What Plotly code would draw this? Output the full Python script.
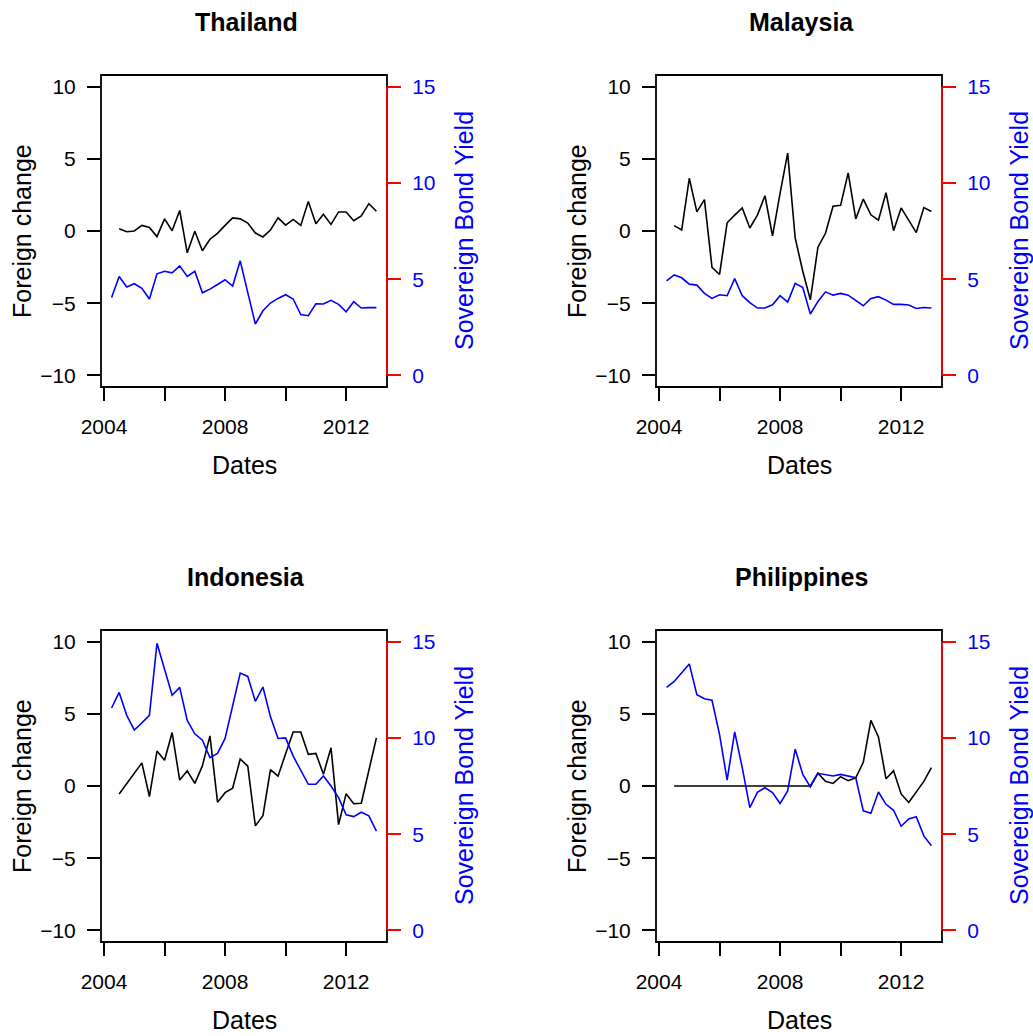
import plotly.graph_objects as go

# ---------------- data ----------------
dates = [2004.25, 2004.5, 2004.75, 2005.0, 2005.25, 2005.5, 2005.75, 2006.0,
         2006.25, 2006.5, 2006.75, 2007.0, 2007.25, 2007.5, 2007.75, 2008.0,
         2008.25, 2008.5, 2008.75, 2009.0, 2009.25, 2009.5, 2009.75, 2010.0,
         2010.25, 2010.5, 2010.75, 2011.0, 2011.25, 2011.5, 2011.75, 2012.0,
         2012.25, 2012.5, 2012.75, 2013.0]

countries = ["Thailand", "Malaysia", "Indonesia", "Philippines"]

thailand_foreign = [None, 0.16, -0.05, 0.0, 0.39, 0.25, -0.39, 0.84, 0.02, 1.42, -1.51, -0.02,
                    -1.37, -0.57, -0.16, 0.39, 0.91, 0.84, 0.55, -0.14, -0.41, 0.07, 0.91, 0.41,
                    0.80, 0.39, 2.05, 0.50, 1.16, 0.46, 1.32, 1.32, 0.71, 1.05, 1.89, 1.37]
thailand_yield = [4.05, 5.14, 4.59, 4.76, 4.52, 3.97, 5.28, 5.41, 5.33, 5.69, 5.14, 5.41,
                  4.29, 4.48, 4.72, 4.97, 4.64, 5.95, 4.30, 2.67, 3.36, 3.76, 4.00, 4.19,
                  3.97, 3.16, 3.10, 3.72, 3.71, 3.90, 3.69, 3.31, 3.83, 3.50, 3.52, 3.52]

malaysia_foreign = [None, 0.37, 0.07, 3.65, 1.32, 2.17, -2.51, -3.01, 0.57, 1.10, 1.60, 0.21,
                    1.10, 2.44, -0.34, 2.60, 5.39, -0.50, -2.79, -4.77, -1.12, -0.16, 1.71, 1.78,
                    4.02, 0.84, 2.21, 1.12, 0.75, 2.65, 0.02, 1.60, 0.73, -0.11, 1.62, 1.35]
malaysia_yield = [4.91, 5.22, 5.07, 4.74, 4.69, 4.26, 4.00, 4.19, 4.14, 5.03, 4.14, 3.78,
                  3.50, 3.50, 3.67, 4.14, 3.81, 4.78, 4.57, 3.19, 3.84, 4.34, 4.17, 4.26,
                  4.17, 3.91, 3.62, 4.00, 4.09, 3.91, 3.69, 3.69, 3.66, 3.48, 3.53, 3.50]

indonesia_foreign = [None, -0.55, 0.14, 0.89, 1.60, -0.73, 2.42, 1.78, 3.70, 0.41, 1.05, 0.18,
                     1.39, 3.47, -1.12, -0.46, -0.16, 1.87, 1.37, -2.76, -2.05, 1.14, 0.68, 2.24,
                     3.74, 3.74, 2.19, 2.26, 0.82, 2.65, -2.67, -0.53, -1.23, -1.19, 1.05, 3.33]
indonesia_yield = [11.55, 12.36, 11.17, 10.41, 10.78, 11.17, 14.91, 13.62, 12.21, 12.62, 10.90, 10.21,
                   9.88, 8.97, 9.19, 9.97, 11.64, 13.36, 13.19, 11.90, 12.64, 11.09, 9.97, 10.00,
                   9.05, 8.33, 7.59, 7.59, 8.02, 7.50, 6.90, 6.00, 5.91, 6.14, 5.95, 5.16]

philippines_foreign = [None, 0.0, 0.0, 0.0, 0.0, 0.0, 0.0, 0.0, 0.0, 0.0, 0.0, 0.0,
                       0.0, 0.0, 0.0, 0.0, 0.0, 0.0, 0.0, 0.0, 0.89, 0.32, 0.18, 0.64,
                       0.37, 0.57, 1.64, 4.54, 3.40, 0.50, 1.05, -0.55, -1.14, -0.39, 0.32, 1.28]
philippines_yield = [12.62, 12.93, 13.38, 13.84, 12.24, 12.03, 11.95, 10.17, 7.81, 10.31, 8.45, 6.38,
                     7.17, 7.41, 7.16, 6.59, 7.24, 9.41, 8.10, 7.45, 8.16, 8.10, 8.02, 8.10,
                     8.02, 7.93, 6.21, 6.09, 7.19, 6.55, 6.24, 5.41, 5.79, 5.90, 4.91, 4.40]

foreign_series = [thailand_foreign, malaysia_foreign, indonesia_foreign, philippines_foreign]
yield_series = [thailand_yield, malaysia_yield, indonesia_yield, philippines_yield]

x_tickvals = [2004, 2006, 2008, 2010, 2012]
x_ticktext = ["2004", "", "2008", "", "2012"]
left_tickvals = [-10, -5, 0, 5, 10]
left_ticktext = ["\u221210", "\u22125", "0", "5", "10"]
right_tickvals = [0, 5, 10, 15]
right_ticktext = ["0", "5", "10", "15"]

# ---------------- layout geometry (pixels) ----------------
W, H = 1033, 1036
FONT = "Liberation Sans, Arial, Helvetica, sans-serif"
col_px = [(101, 387), (656, 942)]
row_px = [(75, 387), (630, 942)]


def px_x(p):
    return p / W


def px_y(p):
    return 1 - p / H


fig = go.Figure()
layout = dict(width=W, height=H, autosize=False,
              margin=dict(l=0, r=0, t=0, b=0, pad=0, autoexpand=False),
              paper_bgcolor="white", plot_bgcolor="white", showlegend=False,
              font=dict(family=FONT, color="black"))
annotations = []
shapes = []

for k, name in enumerate(countries):
    r, c = divmod(k, 2)
    x0p, x1p = col_px[c]
    y0p, y1p = row_px[r]
    xa = "x" if k == 0 else f"x{k + 1}"
    ya_l = f"y{2 * k + 1}" if k > 0 else "y"
    ya_r = f"y{2 * k + 2}"
    xkey = "xaxis" if k == 0 else f"xaxis{k + 1}"
    ylkey = "yaxis" if k == 0 else f"yaxis{2 * k + 1}"
    yrkey = f"yaxis{2 * k + 2}"

    fig.add_trace(go.Scatter(x=dates, y=foreign_series[k], mode="lines",
                             line=dict(color="black", width=1.6),
                             xaxis=xa, yaxis=ya_l, connectgaps=False))
    fig.add_trace(go.Scatter(x=dates, y=yield_series[k], mode="lines",
                             line=dict(color="blue", width=1.6),
                             xaxis=xa, yaxis=ya_r))

    layout[xkey] = dict(domain=[px_x(x0p), px_x(x1p)], anchor=ya_l,
                        range=[2003.9, 2013.35], tickmode="array",
                        tickvals=x_tickvals, ticktext=x_ticktext,
                        ticks="outside", ticklen=13, tickwidth=1.5, tickcolor="black",
                        showgrid=False, zeroline=False, showline=False, automargin=False,
                        tickfont=dict(size=21, family=FONT, color="black"),
                        ticklabelstandoff=8)
    layout[ylkey] = dict(domain=[px_y(y1p), px_y(y0p)], anchor=xa,
                         range=[-10.8, 10.8], tickmode="array",
                         tickvals=left_tickvals, ticktext=left_ticktext,
                         ticks="outside", ticklen=13, tickwidth=1.5, tickcolor="black",
                         showgrid=False, zeroline=False, showline=False, automargin=False,
                         tickfont=dict(size=21, family=FONT, color="black"),
                         ticklabelstandoff=7)
    layout[yrkey] = dict(overlaying=ya_l, side="right", anchor=xa,
                         range=[-0.6, 15.6], tickmode="array",
                         tickvals=right_tickvals, ticktext=right_ticktext,
                         ticks="outside", ticklen=13, tickwidth=1.5, tickcolor="red",
                         showgrid=False, zeroline=False, showline=False, automargin=False,
                         tickfont=dict(size=21, family=FONT, color="blue"),
                         ticklabelstandoff=7)

    # box
    shapes.append(dict(type="rect", xref=f"{xa} domain", yref=f"{ya_l} domain",
                       x0=0, x1=1, y0=0, y1=1, line=dict(color="black", width=1.8),
                       layer="above"))
    # red right axis line
    shapes.append(dict(type="line", xref=f"{xa} domain", yref=ya_r,
                       x0=1, x1=1, y0=right_tickvals[0], y1=right_tickvals[-1],
                       line=dict(color="red", width=1.8), layer="above"))

    cx = (x0p + x1p) / 2
    cy = (y0p + y1p) / 2
    dx = 555 * c
    annotations.append(dict(text=f"<b>{name}</b>", x=px_x(cx + 2), y=px_y(y0p - 53),
                            xref="paper", yref="paper", showarrow=False,
                            xanchor="center", yanchor="middle",
                            font=dict(size=25, family=FONT, color="black")))
    annotations.append(dict(text="Dates", x=px_x(cx), y=px_y(y1p + 78),
                            xref="paper", yref="paper", showarrow=False,
                            xanchor="center", yanchor="middle",
                            font=dict(size=25, family=FONT, color="black")))
    annotations.append(dict(text="Foreign change", x=px_x(22 + dx), y=px_y(cy),
                            xref="paper", yref="paper", showarrow=False, textangle=-90,
                            xanchor="center", yanchor="middle",
                            font=dict(size=25, family=FONT, color="black")))
    annotations.append(dict(text="Sovereign Bond Yield", x=px_x(464 + dx), y=px_y(cy),
                            xref="paper", yref="paper", showarrow=False, textangle=-90,
                            xanchor="center", yanchor="middle",
                            font=dict(size=25, family=FONT, color="blue")))

layout["annotations"] = annotations
layout["shapes"] = shapes
fig.update_layout(**layout)
fig.write_html("out.html", config={"responsive": False, "displayModeBar": False},
               post_script="document.body.style.margin='0';document.body.style.overflow='hidden';")
